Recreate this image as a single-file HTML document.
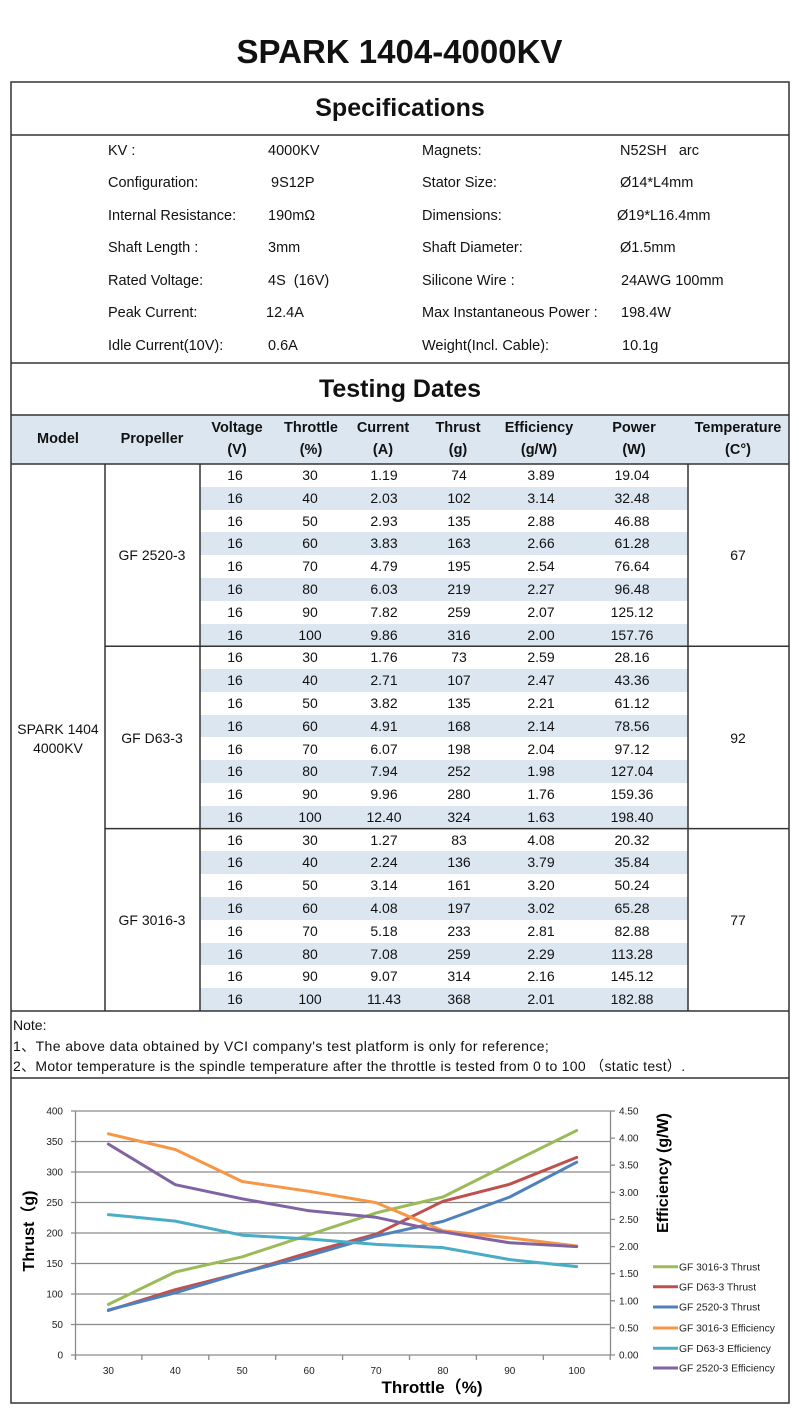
<!DOCTYPE html>
<html><head><meta charset="utf-8">
<style>
*{margin:0;padding:0;box-sizing:border-box}
body{width:799px;height:1412px;background:#fff;position:relative;overflow:hidden;font-family:"Liberation Sans","Noto Sans CJK SC",sans-serif;color:#111}
.a{position:absolute;white-space:nowrap}
.t{position:absolute;white-space:nowrap;font-size:14.5px;line-height:20px}
.hd{position:absolute;font-weight:bold;font-size:14.5px;text-align:center;line-height:22px;width:110px;top:417px}
.r{position:absolute;left:200px;width:488px;height:22.79px;font-size:14px;line-height:22.79px}
.r.s{background:#dce6f1}
.r span{position:absolute;top:0;width:60px;text-align:center}
.r span:nth-child(1){left:5px}
.r span:nth-child(2){left:80px}
.r span:nth-child(3){left:154px}
.r span:nth-child(4){left:229px}
.r span:nth-child(5){left:311px}
.r span:nth-child(6){left:402px}
.m{position:absolute;font-size:14px;line-height:20px;text-align:center;width:90px}
.n{position:absolute;white-space:nowrap;left:13px;font-size:14px;line-height:20px;letter-spacing:0.4px}
svg{position:absolute;left:0;top:0}
</style></head><body>

<div class="a" style="left:0;width:799px;top:30px;text-align:center;font-weight:bold;font-size:33px;line-height:44px;">SPARK 1404-4000KV</div>

<div class="a" style="left:11px;width:778px;top:93px;text-align:center;font-weight:bold;font-size:25px;line-height:30px;">Specifications</div>

<!-- specs -->
<div class="t" style="left:108px;top:141px">KV :</div>
<div class="t" style="left:268px;top:141px">4000KV</div>
<div class="t" style="left:422px;top:141px">Magnets:</div>
<div class="t" style="left:620px;top:141px">N52SH&nbsp;&nbsp;&nbsp;arc</div>

<div class="t" style="left:108px;top:173px">Configuration:</div>
<div class="t" style="left:271px;top:173px">9S12P</div>
<div class="t" style="left:422px;top:173px">Stator Size:</div>
<div class="t" style="left:620px;top:173px">Ø14*L4mm</div>

<div class="t" style="left:108px;top:205.5px">Internal Resistance:</div>
<div class="t" style="left:268px;top:205.5px">190mΩ</div>
<div class="t" style="left:422px;top:205.5px">Dimensions:</div>
<div class="t" style="left:617px;top:205.5px">Ø19*L16.4mm</div>

<div class="t" style="left:108px;top:238px">Shaft Length :</div>
<div class="t" style="left:268px;top:238px">3mm</div>
<div class="t" style="left:422px;top:238px">Shaft Diameter:</div>
<div class="t" style="left:620px;top:238px">Ø1.5mm</div>

<div class="t" style="left:108px;top:270.5px">Rated Voltage:</div>
<div class="t" style="left:268px;top:270.5px">4S&nbsp;&nbsp;(16V)</div>
<div class="t" style="left:422px;top:270.5px">Silicone Wire :</div>
<div class="t" style="left:621px;top:270.5px">24AWG 100mm</div>

<div class="t" style="left:108px;top:303px">Peak Current:</div>
<div class="t" style="left:266px;top:303px">12.4A</div>
<div class="t" style="left:422px;top:303px">Max Instantaneous Power :</div>
<div class="t" style="left:621px;top:303px">198.4W</div>

<div class="t" style="left:108px;top:336px">Idle Current(10V):</div>
<div class="t" style="left:268px;top:336px">0.6A</div>
<div class="t" style="left:422px;top:336px">Weight(Incl. Cable):</div>
<div class="t" style="left:622px;top:336px">10.1g</div>

<div class="a" style="left:11px;width:778px;top:374px;text-align:center;font-weight:bold;font-size:25px;line-height:30px;">Testing Dates</div>

<!-- header -->
<div class="a" style="left:11px;top:415px;width:778px;height:49px;background:#dce6f1"></div>
<div class="hd" style="left:3px;top:428px">Model</div>
<div class="hd" style="left:97px;top:428px">Propeller</div>
<div class="hd" style="left:182px">Voltage<br>(V)</div>
<div class="hd" style="left:256px">Throttle<br>(%)</div>
<div class="hd" style="left:328px">Current<br>(A)</div>
<div class="hd" style="left:403px">Thrust<br>(g)</div>
<div class="hd" style="left:484px">Efficiency<br>(g/W)</div>
<div class="hd" style="left:579px">Power<br>(W)</div>
<div class="hd" style="left:683px">Temperature<br>(C°)</div>

<!-- group 1 -->
<div class="r" style="top:464px"><span>16</span><span>30</span><span>1.19</span><span>74</span><span>3.89</span><span>19.04</span></div>
<div class="r s" style="top:486.8px"><span>16</span><span>40</span><span>2.03</span><span>102</span><span>3.14</span><span>32.48</span></div>
<div class="r" style="top:509.6px"><span>16</span><span>50</span><span>2.93</span><span>135</span><span>2.88</span><span>46.88</span></div>
<div class="r s" style="top:532.4px"><span>16</span><span>60</span><span>3.83</span><span>163</span><span>2.66</span><span>61.28</span></div>
<div class="r" style="top:555.2px"><span>16</span><span>70</span><span>4.79</span><span>195</span><span>2.54</span><span>76.64</span></div>
<div class="r s" style="top:578px"><span>16</span><span>80</span><span>6.03</span><span>219</span><span>2.27</span><span>96.48</span></div>
<div class="r" style="top:600.7px"><span>16</span><span>90</span><span>7.82</span><span>259</span><span>2.07</span><span>125.12</span></div>
<div class="r s" style="top:623.5px"><span>16</span><span>100</span><span>9.86</span><span>316</span><span>2.00</span><span>157.76</span></div>
<!-- group 2 -->
<div class="r" style="top:646.3px"><span>16</span><span>30</span><span>1.76</span><span>73</span><span>2.59</span><span>28.16</span></div>
<div class="r s" style="top:669.1px"><span>16</span><span>40</span><span>2.71</span><span>107</span><span>2.47</span><span>43.36</span></div>
<div class="r" style="top:691.9px"><span>16</span><span>50</span><span>3.82</span><span>135</span><span>2.21</span><span>61.12</span></div>
<div class="r s" style="top:714.7px"><span>16</span><span>60</span><span>4.91</span><span>168</span><span>2.14</span><span>78.56</span></div>
<div class="r" style="top:737.5px"><span>16</span><span>70</span><span>6.07</span><span>198</span><span>2.04</span><span>97.12</span></div>
<div class="r s" style="top:760.3px"><span>16</span><span>80</span><span>7.94</span><span>252</span><span>1.98</span><span>127.04</span></div>
<div class="r" style="top:783.1px"><span>16</span><span>90</span><span>9.96</span><span>280</span><span>1.76</span><span>159.36</span></div>
<div class="r s" style="top:805.9px"><span>16</span><span>100</span><span>12.40</span><span>324</span><span>1.63</span><span>198.40</span></div>
<!-- group 3 -->
<div class="r" style="top:828.6px"><span>16</span><span>30</span><span>1.27</span><span>83</span><span>4.08</span><span>20.32</span></div>
<div class="r s" style="top:851.4px"><span>16</span><span>40</span><span>2.24</span><span>136</span><span>3.79</span><span>35.84</span></div>
<div class="r" style="top:874.2px"><span>16</span><span>50</span><span>3.14</span><span>161</span><span>3.20</span><span>50.24</span></div>
<div class="r s" style="top:897px"><span>16</span><span>60</span><span>4.08</span><span>197</span><span>3.02</span><span>65.28</span></div>
<div class="r" style="top:919.8px"><span>16</span><span>70</span><span>5.18</span><span>233</span><span>2.81</span><span>82.88</span></div>
<div class="r s" style="top:942.6px"><span>16</span><span>80</span><span>7.08</span><span>259</span><span>2.29</span><span>113.28</span></div>
<div class="r" style="top:965.4px"><span>16</span><span>90</span><span>9.07</span><span>314</span><span>2.16</span><span>145.12</span></div>
<div class="r s" style="top:988.2px"><span>16</span><span>100</span><span>11.43</span><span>368</span><span>2.01</span><span>182.88</span></div>

<!-- merged cells -->
<div class="m" style="left:13px;top:719px">SPARK 1404</div>
<div class="m" style="left:13px;top:738px">4000KV</div>
<div class="m" style="left:107px;top:545px">GF 2520-3</div>
<div class="m" style="left:107px;top:728px">GF D63-3</div>
<div class="m" style="left:107px;top:910px">GF 3016-3</div>
<div class="m" style="left:693px;top:545px">67</div>
<div class="m" style="left:693px;top:728px">92</div>
<div class="m" style="left:693px;top:910px">77</div>

<!-- notes -->
<div class="n" style="top:1015px;letter-spacing:0">Note:</div>
<div class="n" style="top:1036px">1、The above data obtained by VCI company's test platform is only for reference;</div>
<div class="n" style="top:1056px;letter-spacing:0.3px">2、Motor temperature is the spindle temperature after the throttle is tested from 0 to 100 （static test）.</div>

<svg width="799" height="1412" viewBox="0 0 799 1412" xmlns="http://www.w3.org/2000/svg">
<g stroke="#333" stroke-width="1.5" fill="none">
<rect x="11" y="82" width="778" height="1321"/>
<line x1="11" y1="135" x2="789" y2="135"/>
<line x1="11" y1="363" x2="789" y2="363"/>
<line x1="11" y1="415" x2="789" y2="415"/>
<line x1="11" y1="464" x2="789" y2="464"/>
<line x1="11" y1="1011" x2="789" y2="1011"/>
<line x1="11" y1="1078" x2="789" y2="1078"/>
<line x1="105" y1="464" x2="105" y2="1011"/>
<line x1="200" y1="464" x2="200" y2="1011"/>
<line x1="688" y1="464" x2="688" y2="1011"/>
<line x1="105" y1="646.3" x2="789" y2="646.3"/>
<line x1="105" y1="828.6" x2="789" y2="828.6"/>
</g>

<!-- chart grid -->
<g stroke="#8a8a8a" stroke-width="1.3" fill="none">
<line x1="75.5" y1="1111" x2="610.5" y2="1111"/>
<line x1="75.5" y1="1141.5" x2="610.5" y2="1141.5"/>
<line x1="75.5" y1="1172" x2="610.5" y2="1172"/>
<line x1="75.5" y1="1202.5" x2="610.5" y2="1202.5"/>
<line x1="75.5" y1="1233" x2="610.5" y2="1233"/>
<line x1="75.5" y1="1263.5" x2="610.5" y2="1263.5"/>
<line x1="75.5" y1="1294" x2="610.5" y2="1294"/>
<line x1="75.5" y1="1324.5" x2="610.5" y2="1324.5"/>
<line x1="75.5" y1="1355" x2="610.5" y2="1355"/>
<line x1="75.5" y1="1111" x2="75.5" y2="1360"/>
<line x1="610.5" y1="1111" x2="610.5" y2="1355"/>
<path d="M71 1111H75.5M71 1141.5H75.5M71 1172H75.5M71 1202.5H75.5M71 1233H75.5M71 1263.5H75.5M71 1294H75.5M71 1324.5H75.5M71 1355H75.5"/>
<path d="M75.5 1355V1360M141.9 1355V1360M208.8 1355V1360M275.7 1355V1360M342.6 1355V1360M409.5 1355V1360M476.4 1355V1360M543.3 1355V1360M610.2 1355V1360"/>
<path d="M610.5 1111H615M610.5 1138.1H615M610.5 1165.2H615M610.5 1192.3H615M610.5 1219.4H615M610.5 1246.6H615M610.5 1273.7H615M610.5 1300.8H615M610.5 1327.9H615M610.5 1355H615"/>
</g>

<g font-family="Liberation Sans, sans-serif" font-size="10" fill="#222">
<g text-anchor="end">
<text x="63" y="1114.5">400</text>
<text x="63" y="1145">350</text>
<text x="63" y="1175.5">300</text>
<text x="63" y="1206">250</text>
<text x="63" y="1236.5">200</text>
<text x="63" y="1267">150</text>
<text x="63" y="1297.5">100</text>
<text x="63" y="1328">50</text>
<text x="63" y="1358.5">0</text>
</g>
<g>
<text x="619" y="1114.5">4.50</text>
<text x="619" y="1141.6">4.00</text>
<text x="619" y="1168.7">3.50</text>
<text x="619" y="1195.8">3.00</text>
<text x="619" y="1222.9">2.50</text>
<text x="619" y="1250.1">2.00</text>
<text x="619" y="1277.2">1.50</text>
<text x="619" y="1304.3">1.00</text>
<text x="619" y="1331.4">0.50</text>
<text x="619" y="1358.5">0.00</text>
</g>
<g text-anchor="middle">
<text x="108.4" y="1374">30</text>
<text x="175.3" y="1374">40</text>
<text x="242.2" y="1374">50</text>
<text x="309.1" y="1374">60</text>
<text x="376" y="1374">70</text>
<text x="442.9" y="1374">80</text>
<text x="509.8" y="1374">90</text>
<text x="576.7" y="1374">100</text>
</g>
</g>

<!-- series -->
<g fill="none" stroke-width="3" stroke-linejoin="round" stroke-linecap="round">
<polyline stroke="#9bbb59" points="108.4,1304.4 175.3,1272 242.2,1256.8 309.1,1234.8 376,1212.9 442.9,1197 509.8,1163.5 576.7,1130.5"/>
<polyline stroke="#c0504d" points="108.4,1310.5 175.3,1289.7 242.2,1272.7 309.1,1252.5 376,1234.2 442.9,1201.3 509.8,1184.2 576.7,1157.4"/>
<polyline stroke="#4f81bd" points="108.4,1309.9 175.3,1292.8 242.2,1272.7 309.1,1255.6 376,1236.1 442.9,1221.4 509.8,1197 576.7,1162.2"/>
<polyline stroke="#f79646" points="108.4,1133.8 175.3,1149.5 242.2,1181.5 309.1,1191.3 376,1202.6 442.9,1230.8 509.8,1237.9 576.7,1246"/>
<polyline stroke="#4bacc6" points="108.4,1214.6 175.3,1221.1 242.2,1235.2 309.1,1239 376,1244.4 442.9,1247.6 509.8,1259.6 576.7,1266.6"/>
<polyline stroke="#8064a2" points="108.4,1144.1 175.3,1184.7 242.2,1198.8 309.1,1210.8 376,1217.3 442.9,1231.9 509.8,1242.8 576.7,1246.6"/>
</g>

<!-- axis titles -->
<g font-family="Liberation Sans, Noto Sans CJK SC, sans-serif" font-weight="bold" fill="#000" text-anchor="middle">
<text x="0" y="0" font-size="16" transform="translate(34,1231) rotate(-90)">Thrust（g)</text>
<text x="0" y="0" font-size="16" transform="translate(668,1173) rotate(-90)">Efficiency (g/W)</text>
<text x="432" y="1393" font-size="17">Throttle（%)</text>
</g>

<!-- legend -->
<g stroke-width="3">
<line x1="653" y1="1266.7" x2="678" y2="1266.7" stroke="#9bbb59"/>
<line x1="653" y1="1286.7" x2="678" y2="1286.7" stroke="#c0504d"/>
<line x1="653" y1="1307" x2="678" y2="1307" stroke="#4f81bd"/>
<line x1="653" y1="1328" x2="678" y2="1328" stroke="#f79646"/>
<line x1="653" y1="1348.3" x2="678" y2="1348.3" stroke="#4bacc6"/>
<line x1="653" y1="1368" x2="678" y2="1368" stroke="#8064a2"/>
</g>
<g font-family="Liberation Sans, sans-serif" font-size="10.3" fill="#222">
<text x="679" y="1270.3">GF 3016-3 Thrust</text>
<text x="679" y="1290.3">GF D63-3 Thrust</text>
<text x="679" y="1310.6">GF 2520-3 Thrust</text>
<text x="679" y="1331.6">GF 3016-3 Efficiency</text>
<text x="679" y="1351.9">GF D63-3 Efficiency</text>
<text x="679" y="1371.6">GF 2520-3 Efficiency</text>
</g>
</svg>
</body></html>
